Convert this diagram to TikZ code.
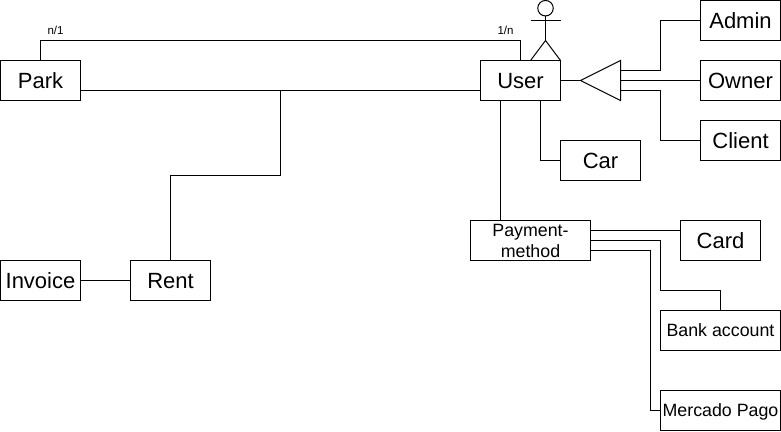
\documentclass[tikz,border=0pt]{standalone}
\usepackage{fontspec}
\setmainfont{Liberation Sans}
\usetikzlibrary{shapes.geometric}

\begin{document}
\begin{tikzpicture}[x=1pt, y=-1pt, line width=1pt, outer sep=0pt,
        bigbox/.style={draw, minimum width=80pt, minimum height=40pt, inner sep=0pt, text height=15.5pt, text depth=0.5pt, font=\fontsize{22}{24}\selectfont},
        widebox/.style={draw, minimum width=120pt, minimum height=40pt, inner sep=0pt, font=\fontsize{17.8}{21}\selectfont},
        cardinality/.style={inner sep=0pt, font=\fontsize{11.5}{13}\selectfont}]
                \useasboundingbox (0, 0) rectangle (781, 431);
                \node [bigbox] (park) at (40.5, 80.5) {Park};
                \node [bigbox] (user) at (520.5, 80.5) {User};
                \node [bigbox] (admin) at (740.5, 20.5) {Admin};
                \node [bigbox] (owner) at (740.5, 80.5) {Owner};
                \node [bigbox] (client) at (740.5, 140.5) {Client};
                \node [bigbox] (car) at (600.5, 160.5) {Car};
                \node [bigbox] (card) at (720.5, 240.5) {Card};
                \node [bigbox] (rent) at (170.5, 280.5) {Rent};
                \node [bigbox] (invoice) at (40.5, 280.5) {Invoice};
                \node [widebox, align=center] (payment) at (530.5, 240.5) {Payment-\\method};
                \node [widebox, text height=12.7pt, text depth=1.7pt] (bank) at (720.5, 330.5) {Bank account};
                \node [widebox, text height=12.7pt, text depth=1.7pt] (mercado) at (720.5, 410.5) {Mercado Pago};
                \node [cardinality] (parkcard) at (55.5, 30.5) {n/1};
                \node [cardinality] (usercard) at (505.5, 30.5) {1/n};
                \node [draw, isosceles triangle, isosceles triangle stretches, shape border rotate=180, minimum width=40pt, minimum height=40pt, inner sep=0pt, anchor=apex] (kind) at (580.5, 80.5) {};
                \coordinate (parkuser) at (280.5, 90.5);
                % the stick figure
                \node [draw, circle, minimum size=15.5pt, inner sep=0pt] (head) at (545.5, 8.2) {};
                \coordinate (hip) at (545.5, 40.5);
                \coordinate (armleft) at (530.5, 20.5);
                \coordinate (armright) at (560.5, 20.5);
                \draw (head.south) -- (hip);
                \draw (armleft) -- (armright);
                \draw ([xshift=10pt]user.north) -- (hip) -- (user.north east);
                % connectors
                \draw (park.north) -- ++(0, -20) -| (user.north);
                \draw ([yshift=-10pt]park.east) -- ([yshift=-10pt]user.west);
                \draw (rent.north) -- ++(0, -85) -| (parkuser);
                \draw (invoice.east) -- (rent.west);
                \draw (user.east) -- (kind.apex);
                \draw ([xshift=20pt]user.south) |- (car.west);
                \draw ([xshift=-20pt]user.south) -- ([xshift=-30pt]payment.north);
                \draw ([yshift=10pt]kind.east) -- ++(40, 0) |- (admin.west);
                \draw (kind.east) -- (owner.west);
                \draw ([yshift=-10pt]kind.east) -- ++(40, 0) |- (client.west);
                \draw ([yshift=10pt]payment.east) -- ([yshift=10pt]card.west);
                \draw (payment.east) -- ++(70, 0) -- ++(0, 50) -| (bank.north);
                \draw ([yshift=-10pt]payment.east) -- ++(60, 0) |- (mercado.west);
            \end{tikzpicture}
\end{document}
